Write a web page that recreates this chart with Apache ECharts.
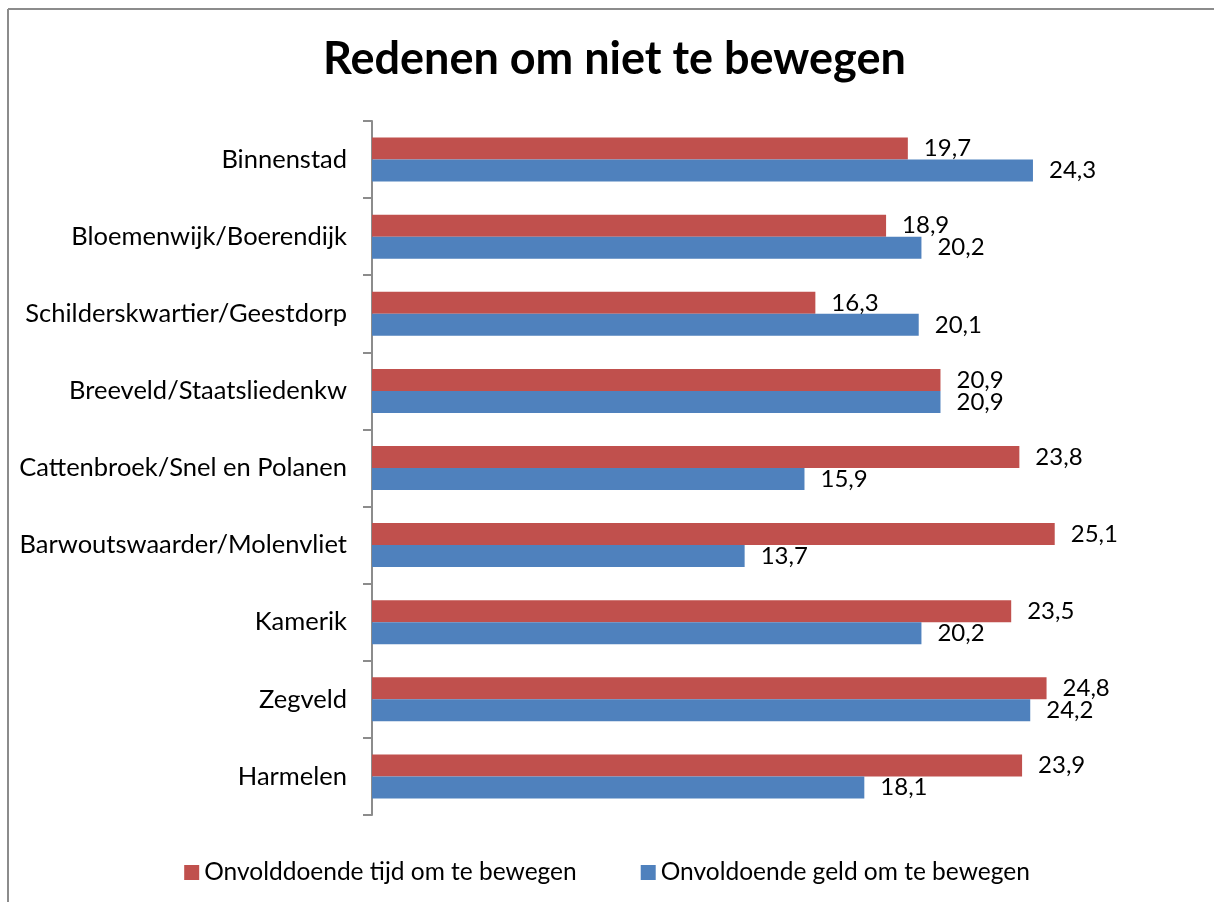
<!DOCTYPE html>
<html lang="nl">
<head>
    <meta charset="UTF-8">
    <title>Redenen om niet te bewegen</title>
    <script src="https://cdn.jsdelivr.net/npm/echarts@6/dist/echarts.min.js"></script>
    <style>
        html, body { margin: 0; padding: 0; background: #ffffff; overflow: hidden; }
        #main { width: 1214px; height: 902px; }
    </style>
</head>
<body>
<div id="main"></div>

<script type="text/javascript">
    // data
    var wijken = ['Binnenstad', 'Bloemenwijk/Boerendijk', 'Schilderskwartier/Geestdorp',
        'Breeveld/Staatsliedenkw', 'Cattenbroek/Snel en Polanen', 'Barwoutswaarder/Molenvliet',
        'Kamerik', 'Zegveld', 'Harmelen'];
    var tijdNaam = 'Onvolddoende tijd om te bewegen';
    var geldNaam = 'Onvoldoende geld om te bewegen';
    var tijd = [19.7, 18.9, 16.3, 20.9, 23.8, 25.1, 23.5, 24.8, 23.9];
    var geld = [24.3, 20.2, 20.1, 20.9, 15.9, 13.7, 20.2, 24.2, 18.1];

    var fontName = 'Lato';

    function komma(p) {
        return p.value.toFixed(1).replace('.', ',');
    }

    var myChart = echarts.init(document.getElementById('main'));

    var option = {
        backgroundColor: '#ffffff',
        textStyle: { fontFamily: fontName, color: '#000000' },
        title: {
            text: 'Redenen om niet te bewegen',
            left: 318,
            top: 32,
            textStyle: {
                fontFamily: fontName,
                fontSize: 45,
                fontWeight: 'bold',
                color: '#000000'
            }
        },
        legend: {
            data: [tijdNaam, geldNaam],
            left: 'center',
            top: 855,
            icon: 'rect',
            itemWidth: 15,
            itemHeight: 15,
            itemGap: 64,
            textStyle: { fontFamily: fontName, fontSize: 24.5, color: '#000000' }
        },
        // chart frame: only the left and top edges fall inside the picture
        graphic: [{
            type: 'line',
            shape: { x1: 8, y1: 9, x2: 8, y2: 910 },
            style: { stroke: '#8c8c8c', lineWidth: 2 },
            silent: true
        }, {
            type: 'line',
            shape: { x1: 8, y1: 9, x2: 1220, y2: 9 },
            style: { stroke: '#8c8c8c', lineWidth: 2 },
            silent: true
        }],
        grid: {
            left: 372,
            top: 121,
            width: 816,
            height: 694
        },
        xAxis: {
            type: 'value',
            min: 0,
            max: 30,
            show: false
        },
        yAxis: {
            type: 'category',
            data: wijken,
            inverse: true,
            axisLine: { show: true, lineStyle: { color: '#8c8c8c', width: 2 } },
            axisTick: { show: true, length: 9, lineStyle: { color: '#8c8c8c', width: 2 } },
            axisLabel: {
                margin: 25,
                fontFamily: fontName,
                fontSize: 25.5,
                color: '#000000'
            },
            splitLine: { show: false }
        },
        series: [
            {
                name: tijdNaam,
                type: 'bar',
                data: tijd,
                barWidth: 22,
                barGap: '0%',
                itemStyle: { color: '#C0504D' },
                label: {
                    show: true,
                    position: 'right',
                    distance: 16,
                    formatter: komma,
                    fontFamily: fontName,
                    fontSize: 24,
                    color: '#000000'
                }
            },
            {
                name: geldNaam,
                type: 'bar',
                data: geld,
                barWidth: 22,
                barGap: '0%',
                itemStyle: { color: '#4F81BD' },
                label: {
                    show: true,
                    position: 'right',
                    distance: 16,
                    formatter: komma,
                    fontFamily: fontName,
                    fontSize: 24,
                    color: '#000000'
                }
            }
        ]
    };

    myChart.setOption(option);
</script>
</body>
</html>
